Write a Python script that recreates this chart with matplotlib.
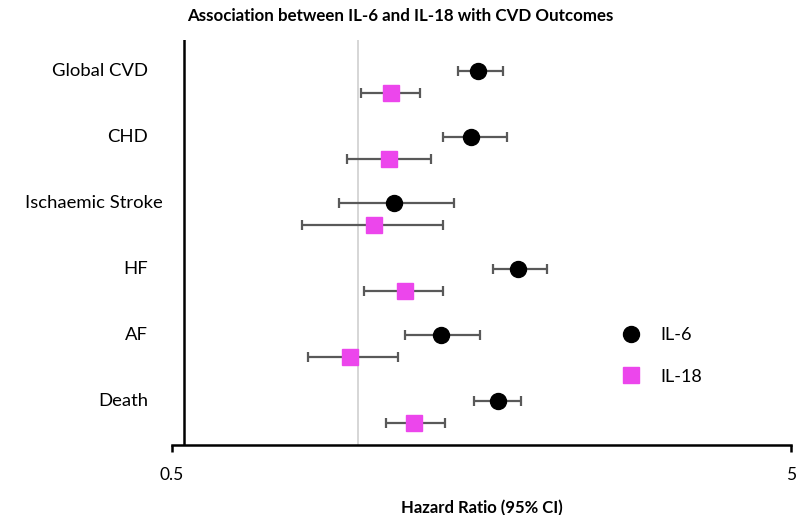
import numpy as np
import matplotlib
matplotlib.use("Agg")
import matplotlib.pyplot as plt
import matplotlib.transforms as mtransforms
from matplotlib.lines import Line2D

plt.rcParams['font.family'] = ['Lato', 'DejaVu Sans']

outcomes = ['Global CVD', 'CHD', 'Ischaemic Stroke', 'HF', 'AF', 'Death']

il6_hr = [1.56, 1.52, 1.14, 1.81, 1.36, 1.68]
il6_lo = [1.45, 1.37, 0.93, 1.65, 1.19, 1.54]
il6_hi = [1.71, 1.74, 1.43, 2.02, 1.57, 1.83]

il18_hr = [1.13, 1.12, 1.06, 1.19, 0.97, 1.23]
il18_lo = [1.01, 0.96, 0.81, 1.02, 0.83, 1.11]
il18_hi = [1.26, 1.31, 1.37, 1.37, 1.16, 1.38]

pink = '#EC46EC'

fig = plt.figure(figsize=(8, 5.15), dpi=100)
ax = fig.add_axes([172/800, 70/515, 619/800, 405/515])

n = len(outcomes)
y6 = np.arange(n, 0, -1).astype(float)
y18 = y6 - 0.34

def err(hr, lo, hi):
    hr, lo, hi = np.array(hr), np.array(lo), np.array(hi)
    return [hr - lo, hi - hr]

ax.errorbar(il6_hr, y6, xerr=err(il6_hr, il6_lo, il6_hi), fmt='o', color='black',
            ms=11.5, ecolor='#595959', elinewidth=1.6, capsize=3.5, capthick=1.6,
            zorder=3)
ax.errorbar(il18_hr, y18, xerr=err(il18_hr, il18_lo, il18_hi), fmt='s', color=pink,
            ms=11, ecolor='#595959', elinewidth=1.6, capsize=3.5, capthick=1.6,
            zorder=3)

ax.set_xscale('log')
ax.set_xlim(0.5, 5)
ax.set_ylim(0.333, 6.465)
ax.axvline(1.0, color='#d0d0d0', lw=1.2, zorder=1)
ax.axvline(0.523, color='black', lw=1.8, zorder=2)

for s in ['top', 'right', 'left']:
    ax.spines[s].set_visible(False)
ax.spines['bottom'].set_linewidth(1.8)

ax.set_xticks([0.5, 5])
ax.set_xticklabels(['0.5', '5'])
ax.xaxis.set_minor_locator(matplotlib.ticker.NullLocator())
ax.tick_params(axis='x', length=5, width=1.8, labelsize=12.5, pad=11)
ax.set_yticks([])

# category labels, right aligned left of the axis
trans = mtransforms.blended_transform_factory(fig.dpi_scale_trans, ax.transData)
for i, name in enumerate(outcomes):
    xr = 163 if name == 'Ischaemic Stroke' else 148
    ax.text(xr / 100, y6[i], name, transform=trans, ha='right', va='center',
            fontsize=13.3)

ax.set_xlabel('Hazard Ratio (95% CI)', fontsize=12, fontweight='bold', labelpad=12)
fig.suptitle('Association between IL-6 and IL-18 with CVD Outcomes', fontsize=12.2,
             fontweight='bold', x=0.5, y=0.985)

handles = [Line2D([], [], ls='none', marker='o', color='black', ms=11.5),
           Line2D([], [], ls='none', marker='s', color=pink, ms=11)]
ax.legend(handles, ['IL-6', 'IL-18'], loc='center left', bbox_to_anchor=(0.698, 0.22),
          frameon=False, fontsize=13, handletextpad=1.0, labelspacing=1.4,
          handlelength=1.2)

fig.savefig('out.png', dpi=100)
